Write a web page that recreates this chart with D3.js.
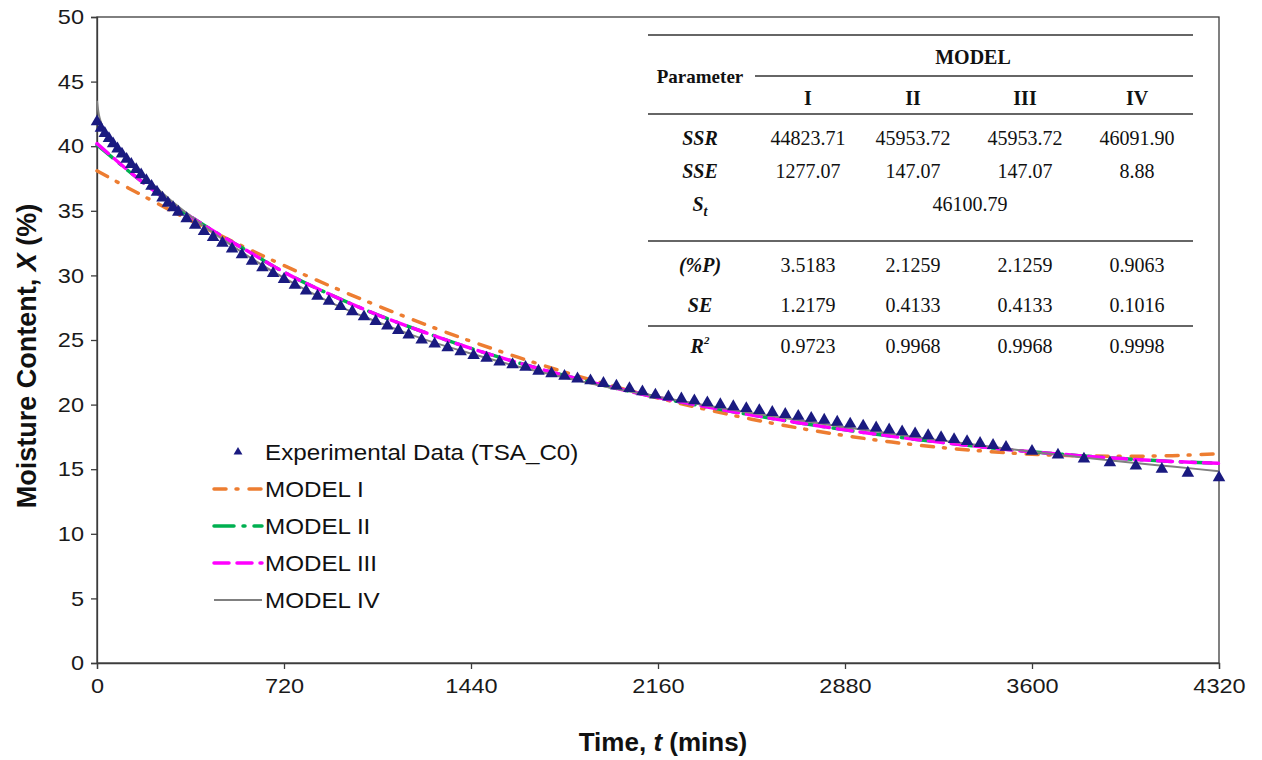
<!DOCTYPE html>
<html><head><meta charset="utf-8">
<script src="https://cdn.jsdelivr.net/npm/d3@7"></script>
<style>body{margin:0;background:#fff}svg{display:block}</style>
</head><body>
<svg id="c" width="1262" height="760"></svg>
<script>
// ---------------- DATA ----------------
const xTicks = [0, 720, 1440, 2160, 2880, 3600, 4320];
const yTicks = [0, 5, 10, 15, 20, 25, 30, 35, 40, 45, 50];

const expTime = [0,15,30,46,62,79,96,114,132,151,170,190,210,231,252,273,293,313,
  345,378,412,447,483,520,558,597,637,678,720,762,805,849,893,938,983,1028,1073,1118,1160,
  1200,1250,1300,1350,1400,1450,1500,1550,1600,1650,1700,1750,1800,1850,1900,1950,2000,2050,2100,
  2150,2200,2250,2300,2350,2400,2450,2500,2550,2600,2650,2700,2750,2800,2850,2900,2950,3000,
  3050,3100,3150,3200,3250,3300,3350,3400,3450,3500,3600,3700,3800,3900,4000,4100,4200,4320];
const expX = [41.9,41.4,41.0,40.6,40.2,39.8,39.4,39.0,38.6,38.2,37.8,37.35,36.9,36.45,36.0,35.6,35.25,34.9,
  34.4,33.9,33.4,32.95,32.5,32.05,31.6,31.1,30.6,30.15,29.7,29.25,28.8,28.4,28.0,27.6,27.2,26.8,26.45,26.1,25.75,
  25.4,25.0,24.7,24.4,24.1,23.8,23.6,23.3,23.1,22.9,22.6,22.4,22.2,22.0,21.85,21.65,21.45,21.25,21.0,
  20.75,20.6,20.45,20.3,20.15,20.0,19.85,19.7,19.55,19.4,19.25,19.1,18.95,18.8,18.65,18.5,18.35,18.2,
  18.05,17.9,17.75,17.6,17.45,17.3,17.15,17.0,16.85,16.7,16.4,16.1,15.8,15.5,15.25,15.0,14.7,14.35];

const modelTime = [0,60,120,180,240,300,360,480,600,720,900,1080,1260,1440,1620,1800,1980,2160,
  2340,2520,2700,2880,3060,3240,3420,3600,3780,3960,4140,4320];
const model1 = [38.10,37.43,36.77,36.13,35.49,34.86,34.25,33.04,31.88,30.76,29.16,27.65,26.23,24.90,23.67,22.52,21.47,20.51,
  19.65,18.87,18.19,17.60,17.10,16.70,16.39,16.16,16.04,16.00,16.05,16.20];
const model2 = [40.1,39.1,38.1,37.15,36.25,35.35,34.55,33.05,31.65,30.25,28.5,26.95,25.6,24.35,23.25,22.25,21.35,20.55,
  19.85,19.2,18.6,18.05,17.55,17.1,16.7,16.35,16.05,15.8,15.6,15.45];
const model3 = [40.2,39.15,38.12,37.15,36.25,35.35,34.55,33.05,31.65,30.25,28.5,26.95,25.6,24.35,23.25,22.25,21.35,20.55,
  19.85,19.2,18.6,18.05,17.55,17.1,16.7,16.35,16.05,15.8,15.6,15.45];
const model4Time = [0,5,10,20,40,60,90,120,180,240,300,360,480,600,720,900,1080,1260,1440,1620,1800,1980,2160,
  2340,2520,2700,2880,3060,3240,3420,3600,3780,3960,4140,4320];
const model4 = [43.5,42.7,42.2,41.6,40.85,40.25,39.5,38.85,37.7,36.6,35.55,34.6,32.85,31.25,29.8,27.9,26.4,25.05,23.95,22.95,22.1,21.3,20.6,
  19.95,19.35,18.8,18.25,17.75,17.25,16.8,16.35,15.95,15.55,15.2,14.85];

const seriesNames = ["Experimental Data (TSA_C0)", "MODEL I", "MODEL II", "MODEL III", "MODEL IV"];

const tableColumns = ["I", "II", "III", "IV"];
const ssrValues = ["44823.71", "45953.72", "45953.72", "46091.90"];
const sseValues = ["1277.07", "147.07", "147.07", "8.88"];
const stValue = "46100.79";
const pValues = ["3.5183", "2.1259", "2.1259", "0.9063"];
const seValues = ["1.2179", "0.4133", "0.4133", "0.1016"];
const r2Values = ["0.9723", "0.9968", "0.9968", "0.9998"];

// ---------------- CHART ----------------
const svg = d3.select("#c");
const plot = {l: 97, r: 1219, t: 17, b: 663};
const x = d3.scaleLinear().domain([0, 4320]).range([plot.l, plot.r]);
const y = d3.scaleLinear().domain([0, 50]).range([plot.b, plot.t]);
const sans = "'Liberation Sans', Arial, sans-serif";
const serif = "'Liberation Serif', 'Times New Roman', serif";
const axisColor = "#3c3c3c";
const stretch = (sel, f) => sel.each(function () {
  const w = this.getComputedTextLength();
  d3.select(this).attr("textLength", w * f).attr("lengthAdjust", "spacingAndGlyphs");
});

// frame
svg.append("rect")
  .attr("x", x(0)).attr("y", y(50))
  .attr("width", x(4320) - x(0)).attr("height", y(0) - y(50))
  .attr("fill", "none").attr("stroke", axisColor).attr("stroke-width", 1.3);

// axes
const yAxis = svg.append("g").attr("transform", `translate(${x(0)},0)`)
  .call(d3.axisLeft(y).tickValues(yTicks).tickSize(6).tickPadding(7).tickFormat(d3.format("d")));
const xAxis = svg.append("g").attr("transform", `translate(0,${y(0)})`)
  .call(d3.axisBottom(x).tickValues(xTicks).tickSize(6).tickPadding(9).tickFormat(d3.format("d")));
[xAxis, yAxis].forEach(g => {
  g.select(".domain").attr("stroke", axisColor).attr("stroke-width", 1.3);
  g.selectAll(".tick line").attr("stroke", axisColor).attr("stroke-width", 1.3);
  g.selectAll(".tick text").attr("font-family", sans).attr("font-size", 21).attr("fill", "#1a1a1a");
  stretch(g.selectAll(".tick text"), 1.12);
});

// axis titles
const xt = svg.append("text").attr("x", (x(0) + x(4320)) / 2 + 5).attr("y", 751)
  .attr("text-anchor", "middle").attr("font-family", sans).attr("font-size", 26)
  .attr("font-weight", "bold").attr("fill", "#111");
xt.append("tspan").text("Time, ");
xt.append("tspan").attr("font-style", "italic").text("t");
xt.append("tspan").text(" (mins)");

const yt = svg.append("text").attr("transform", `translate(36,${(y(0) + y(50)) / 2 + 16}) rotate(-90)`)
  .attr("text-anchor", "middle").attr("font-family", sans).attr("font-size", 27)
  .attr("font-weight", "bold").attr("fill", "#111");
yt.append("tspan").text("Moisture Content, ");
yt.append("tspan").attr("font-style", "italic").text("X");
yt.append("tspan").text(" (%)");

// series styles
const styles = [
  {color: "#ED7D31", dash: "12,10,2,11", width: 3.5},
  {color: "#00B050", dash: "20,9,2,9", width: 3.5},
  {color: "#FF00FF", dash: "15,8", width: 3.5},
  {color: "#808080", dash: null, width: 2}
];
const modelData = [
  modelTime.map((t, i) => [t, model1[i]]),
  modelTime.map((t, i) => [t, model2[i]]),
  modelTime.map((t, i) => [t, model3[i]]),
  model4Time.map((t, i) => [t, model4[i]])
];
const line = d3.line().x(d => x(d[0])).y(d => y(d[1])).curve(d3.curveMonotoneX);

modelData.forEach((d, i) => {
  svg.append("path").datum(d).attr("d", line)
    .attr("fill", "none").attr("stroke", styles[i].color)
    .attr("stroke-width", styles[i].width)
    .attr("stroke-dasharray", styles[i].dash)
    .attr("stroke-linecap", styles[i].dash ? "round" : "butt");
});

// experimental triangles
const tri = d3.symbol().type(d3.symbolTriangle).size(68);
svg.append("g").selectAll("path").data(expTime.map((t, i) => [t, expX[i]]))
  .join("path").attr("d", tri)
  .attr("transform", d => `translate(${x(d[0])},${y(d[1])})`)
  .attr("fill", "#1a1a80");

// legend
const legX = 214, legY0 = 452, legDy = 37;
seriesNames.forEach((name, i) => {
  const gy = legY0 + i * legDy;
  if (i === 0) {
    svg.append("path").attr("d", d3.symbol().type(d3.symbolTriangle).size(34))
      .attr("transform", `translate(${legX + 24},${gy})`).attr("fill", "#1a1a80");
  } else {
    const s = styles[i - 1];
    svg.append("line").attr("x1", legX).attr("x2", legX + 48).attr("y1", gy).attr("y2", gy)
      .attr("stroke", s.color).attr("stroke-width", s.width)
      .attr("stroke-dasharray", s.dash).attr("stroke-linecap", s.dash ? "round" : "butt");
  }
  const t = svg.append("text").attr("x", legX + 51).attr("y", gy).attr("dy", "0.36em")
    .attr("font-family", sans).attr("font-size", 22).attr("fill", "#111").text(name);
  stretch(t, 1.1);
});

// ---------------- TABLE ----------------
const tb = svg.append("g").attr("font-family", serif).attr("fill", "#111");
const tL = 648, tR = 1193, paramX = 700;
const colX = [808, 913, 1025, 1137];
const rule = (yy, x1) => tb.append("line").attr("x1", x1).attr("x2", tR).attr("y1", yy).attr("y2", yy)
  .attr("stroke", "#333").attr("stroke-width", 1.3);
rule(35, tL); rule(76, 755); rule(114, tL); rule(241, tL); rule(326, tL);

const txt = (xx, yy, s, opts = {}) => tb.append("text").attr("x", xx).attr("y", yy).attr("dy", "0.35em")
  .attr("text-anchor", "middle").attr("font-size", opts.size || 20)
  .attr("font-weight", opts.bold ? "bold" : "normal")
  .attr("font-style", opts.italic ? "italic" : "normal").text(s);

txt(973, 57, "MODEL", {bold: true});
txt(paramX, 76, "Parameter", {bold: true, size: 19});
tableColumns.forEach((c, i) => txt(colX[i], 98, c, {bold: true}));

const rows = [
  {label: "SSR", vals: ssrValues, y: 138},
  {label: "SSE", vals: sseValues, y: 171},
  {label: "(%P)", vals: pValues, y: 265},
  {label: "SE", vals: seValues, y: 305}
];
rows.forEach(r => {
  txt(paramX, r.y, r.label, {bold: true, italic: true});
  r.vals.forEach((v, i) => txt(colX[i], r.y, v));
});
// S_t row
const st = tb.append("text").attr("x", paramX).attr("y", 204).attr("dy", "0.35em").attr("text-anchor", "middle")
  .attr("font-size", 20).attr("font-weight", "bold").attr("font-style", "italic");
st.append("tspan").text("S");
st.append("tspan").attr("font-size", 14).attr("dy", 5).text("t");
txt(970, 204, stValue);
// R^2 row
const r2 = tb.append("text").attr("x", paramX).attr("y", 346).attr("dy", "0.35em").attr("text-anchor", "middle")
  .attr("font-size", 20).attr("font-weight", "bold").attr("font-style", "italic");
r2.append("tspan").text("R");
r2.append("tspan").attr("font-size", 11).attr("dy", -9).text("2");
r2Values.forEach((v, i) => txt(colX[i], 346, v));
</script>
</body></html>
